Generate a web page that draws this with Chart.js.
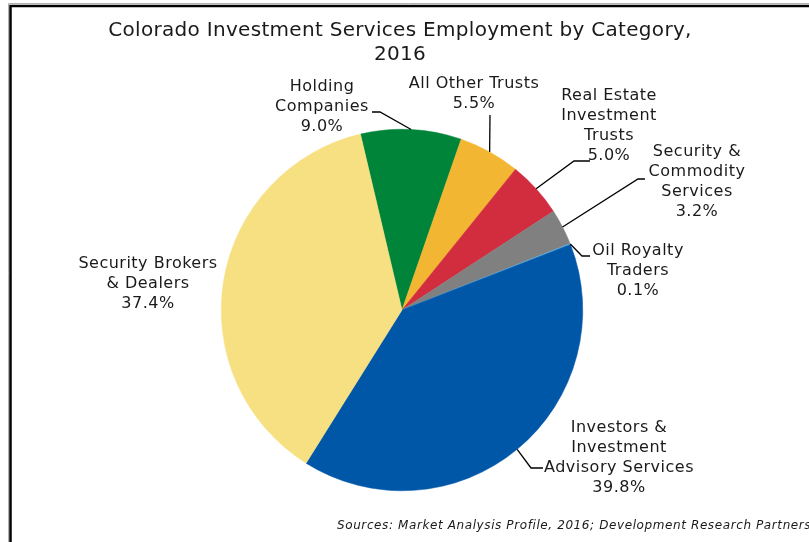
<!DOCTYPE html>
<html>
<head>
<meta charset="utf-8">
<script src="https://cdn.jsdelivr.net/npm/chart.js@4"></script>
<style>
  html, body { margin: 0; padding: 0; background: #fff; }
  #wrap { position: relative; width: 809px; height: 542px; }
</style>
</head>
<body>
<div id="wrap"><canvas id="pie"></canvas></div>
<script>
// categories in drawing order (clockwise from the top-left)
const categories = [
  'Holding\nCompanies',
  'All Other Trusts',
  'Real Estate\nInvestment\nTrusts',
  'Security &\nCommodity\nServices',
  'Oil Royalty\nTraders',
  'Investors &\nInvestment\nAdvisory Services',
  'Security Brokers\n& Dealers'
];
const shares = [9.0, 5.5, 5.0, 3.2, 0.1, 39.8, 37.4];
const colors = ['#00843a', '#f2b632', '#d22d3e', '#808080', '#56a8dc', '#0057a8', '#f7e082'];

const titleLines = ['Colorado Investment Services Employment by Category,', '2016'];
const sourceNote = 'Sources: Market Analysis Profile, 2016; Development Research Partners';

// label placement relative to pie centre: text centre/first line, leader elbow points
const labelLayout = [
  { tx: -80, ty: -223, pts: [[-22, -198], [-30, -198]] },
  { tx: 72,  ty: -226, pts: [[88, -195]] },
  { tx: 207, ty: -214, pts: [[172, -149], [188, -149]] },
  { tx: 295, ty: -158, pts: [[236, -131], [243, -131]] },
  { tx: 236, ty: -59,  pts: [[180, -54], [188, -54]] },
  { tx: 217, ty: 118,  pts: [[129, 158], [141, 158]] },
  { tx: -254, ty: -46, pts: [] }
];

const FONT = '"DejaVu Sans", Verdana, sans-serif';

const decor = {
  id: 'decor',
  afterDraw(chart) {
    const ctx = chart.ctx;
    const meta = chart.getDatasetMeta(0);
    ctx.save();

    // frame
    ctx.strokeStyle = '#b0b0b0';
    ctx.lineWidth = 1;
    ctx.beginPath();
    ctx.moveTo(8.5, 542); ctx.lineTo(8.5, 3.5); ctx.lineTo(809, 3.5);
    ctx.stroke();
    ctx.strokeStyle = '#000';
    ctx.lineWidth = 2.5;
    ctx.beginPath();
    ctx.moveTo(10.5, 542); ctx.lineTo(10.5, 6); ctx.lineTo(809, 6);
    ctx.stroke();

    // title
    ctx.fillStyle = '#1a1a1a';
    ctx.textAlign = 'center';
    ctx.textBaseline = 'middle';
    ctx.font = '20px ' + FONT;
    ctx.letterSpacing = '0.3px';
    titleLines.forEach((t, i) => ctx.fillText(t, 400, 31 + i * 24));

    // labels with leader lines
    ctx.font = '16px ' + FONT;
    ctx.letterSpacing = '0.5px';
    ctx.strokeStyle = '#000';
    ctx.lineWidth = 1.3;
    meta.data.forEach((arc, i) => {
      const cx = arc.x, cy = arc.y;
      const lay = labelLayout[i];
      const mid = (arc.startAngle + arc.endAngle) / 2;
      if (lay.pts.length) {
        ctx.beginPath();
        ctx.moveTo(cx + Math.cos(mid) * arc.outerRadius, cy + Math.sin(mid) * arc.outerRadius);
        lay.pts.forEach(p => ctx.lineTo(cx + p[0], cy + p[1]));
        ctx.stroke();
      }
      const lines = categories[i].split('\n').concat(shares[i].toFixed(1) + '%');
      lines.forEach((l, j) => ctx.fillText(l, cx + lay.tx, cy + lay.ty + j * 20));
    });

    // source note
    ctx.font = 'italic 12px ' + FONT;
    ctx.letterSpacing = '0.6px';
    ctx.textAlign = 'left';
    ctx.fillText(sourceNote, 337, 526);
    ctx.restore();
  }
};

new Chart(document.getElementById('pie'), {
  type: 'pie',
  data: {
    labels: categories,
    datasets: [{
      data: shares,
      backgroundColor: colors,
      borderColor: colors,
      borderWidth: 0.5
    }]
  },
  options: {
    responsive: true,
    maintainAspectRatio: false,
    animation: false,
    rotation: -13.3,
    layout: { padding: { left: 221, right: 226, top: 129, bottom: 51 } },
    plugins: {
      legend: { display: false },
      tooltip: { enabled: false }
    }
  },
  plugins: [decor]
});
</script>
</body>
</html>
